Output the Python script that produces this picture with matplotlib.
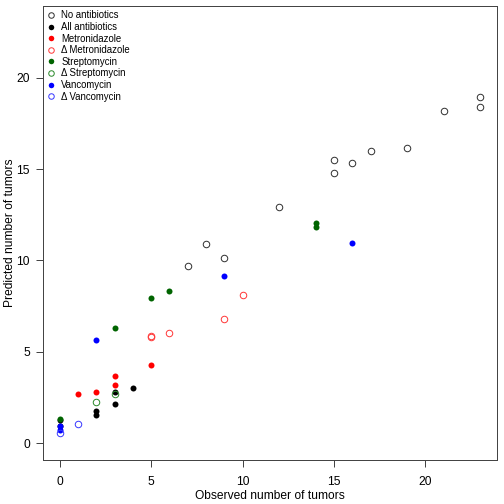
import matplotlib
matplotlib.use("Agg")
import matplotlib.pyplot as plt
from matplotlib.lines import Line2D

plt.rcParams["font.family"] = ["Liberation Sans", "DejaVu Sans"]

# observed vs predicted tumor counts per group
none_obs = [23, 23, 21, 19, 17, 16, 15, 15, 12, 9, 8, 7]
none_pred = [18.96, 18.4, 18.15, 16.15, 16.0, 15.35, 15.5, 14.78, 12.9, 10.15, 10.9, 9.7]

all_obs = [0, 0, 2, 2, 3, 3, 4]
all_pred = [1.28, 0.95, 1.74, 1.55, 2.79, 2.17, 3.03]

metro_obs = [1, 2, 3, 3, 5]
metro_pred = [2.68, 2.81, 3.65, 3.18, 4.29]

dmetro_obs = [5, 5, 6, 9, 10]
dmetro_pred = [5.85, 5.8, 6.04, 6.81, 8.1]

strep_obs = [0, 3, 5, 6, 14, 14]
strep_pred = [1.3, 6.3, 7.95, 8.3, 12.05, 11.85]

dstrep_obs = [2, 3]
dstrep_pred = [2.26, 2.68]

vanco_obs = [0, 0, 2, 9, 16]
vanco_pred = [0.93, 0.71, 5.62, 9.15, 10.97]

dvanco_obs = [0, 1]
dvanco_pred = [0.58, 1.06]

labels = ["No antibiotics", "All antibiotics", "Metronidazole", "\u0394 Metronidazole",
          "Streptomycin", "\u0394 Streptomycin", "Vancomycin", "\u0394 Vancomycin"]

fig = plt.figure(figsize=(7, 7), dpi=72)
ax = fig.add_axes([43 / 504, 44 / 504, 454 / 504, 454 / 504])

open_kw = dict(linestyle="none", marker="o", markersize=6.5, markerfacecolor="none", markeredgewidth=1.0)
fill_kw = dict(linestyle="none", marker="o", markersize=6.0, markeredgewidth=0)

groups = [
    (none_obs, none_pred, "#333333", True),
    (all_obs, all_pred, "black", False),
    (metro_obs, metro_pred, "red", False),
    (dmetro_obs, dmetro_pred, "#ff3b3b", True),
    (strep_obs, strep_pred, "#006400", False),
    (dstrep_obs, dstrep_pred, "#2e8b2e", True),
    (vanco_obs, vanco_pred, "blue", False),
    (dvanco_obs, dvanco_pred, "#3b3bff", True),
]

handles = []
for (xs, ys, col, is_open), lab in zip(groups, labels):
    if is_open:
        ax.plot(xs, ys, markeredgecolor=col, **open_kw)
        h = Line2D([], [], markeredgecolor=col, **dict(open_kw, markersize=5.5))
    else:
        ax.plot(xs, ys, markerfacecolor=col, markeredgecolor=col, **fill_kw)
        h = Line2D([], [], markerfacecolor=col, markeredgecolor=col, **dict(fill_kw, markersize=5.5))
    handles.append(h)

ax.set_xlim(-0.92, 23.92)
ax.set_ylim(-0.92, 23.92)
ax.set_xticks([0, 5, 10, 15, 20])
ax.set_yticks([0, 5, 10, 15, 20])
ax.tick_params(axis="both", direction="out", length=7, width=1, colors="#444444",
               labelcolor="black", labelsize=12)
ax.tick_params(axis="x", pad=9)
ax.tick_params(axis="y", pad=6)
for sp in ax.spines.values():
    sp.set_color("#444444")
    sp.set_linewidth(1)

ax.set_xlabel("Observed number of tumors", fontsize=12)
ax.set_ylabel("Predicted number of tumors", fontsize=12)
ax.xaxis.set_label_coords(0.5, -36 / 454, transform=ax.transAxes)
ax.yaxis.set_label_coords(-33 / 454, 0.5, transform=ax.transAxes)
ax.xaxis.label.set_va("center")
ax.yaxis.label.set_va("center")

ax.legend(handles, labels, loc="upper left", frameon=False, fontsize=9.6,
          handlelength=0.6, handletextpad=0.75, labelspacing=0.17,
          borderaxespad=0.25, borderpad=0.2, bbox_to_anchor=(0.002, 1.0))

fig.savefig("out.png", dpi=72)
